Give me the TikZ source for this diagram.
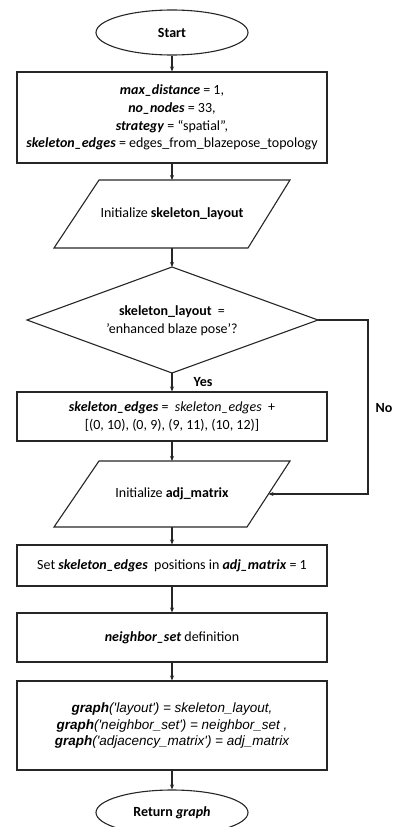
\documentclass[tikz,border=0pt]{standalone}
\usepackage{fontspec}
\setmainfont{Carlito}
\newfontfamily\arialf{Liberation Sans}
\usetikzlibrary{shapes.geometric,arrows.meta}
\begin{document}
\begin{tikzpicture}[x=1pt,y=-1pt,
  every node/.style={font=\fontsize{14}{17.6}\selectfont},
  line/.style={draw=black!85, line width=1.1pt},
  arr/.style={line, -{Stealth[length=5pt,width=4pt]}},
  box/.style={line, rectangle, minimum width=310pt, align=center, inner sep=0pt},
  term/.style={line, ellipse, minimum width=152pt, minimum height=45pt, inner sep=0pt, font=\bfseries\fontsize{14}{15}\selectfont},
  lbl/.style={font=\bfseries\fontsize{14}{15}\selectfont}]
\useasboundingbox (0,0) rectangle (397,827);
\clip (0,0) rectangle (397,827);
% Start
\node[term] (start) at (172,32.5) {Start};
% box1
\node[box, minimum height=91pt] (b1) at (172,117.5) {\textbf{\textit{max\_distance}} = 1,\\ \textbf{\textit{no\_nodes}} = 33,\\ \textbf{\textit{strategy}} = “spatial”,\\ \textbf{\textit{skeleton\_edges}} = edges\_from\_blazepose\_topology};
% parallelogram 1
\coordinate (p1a) at (99,180);
\coordinate (p1b) at (290,180);
\coordinate (p1c) at (248,248);
\coordinate (p1d) at (54,248);
\draw[line] (p1a) -- (p1b) -- (p1c) -- (p1d) -- cycle;
\node (p1) at (172,214) {Initialize \textbf{skeleton\_layout}};
% diamond
\coordinate (dt) at (172,267);
\coordinate (dr) at (318,320);
\coordinate (db) at (172,373);
\coordinate (dl) at (27,320);
\draw[line] (dt) -- (dr) -- (db) -- (dl) -- cycle;
\node[align=center] (d) at (172,321) {\textbf{skeleton\_layout}\ \ =\\ 'enhanced blaze pose'?};
% box2
\node[box, minimum height=49pt] (b2) at (172,416.5) {\textbf{\textit{skeleton\_edges}} = \ \textit{skeleton\_edges} \ +\\ {[}(0, 10), (0, 9), (9, 11), (10, 12)]};
% parallelogram 2
\coordinate (p2a) at (99,461);
\coordinate (p2b) at (290,461);
\coordinate (p2c) at (247,527);
\coordinate (p2d) at (54,527);
\draw[line] (p2a) -- (p2b) -- (p2c) -- (p2d) -- cycle;
\node (p2) at (172,494) {Initialize \textbf{adj\_matrix}};
\coordinate (p2r) at (268.5,494);
% box3
\node[box, minimum height=41pt] (b3) at (172,565.5) {Set \textbf{\textit{skeleton\_edges}}\ \ positions in \textbf{\textit{adj\_matrix}} = 1};
% box4
\node[box, minimum height=49pt] (b4) at (172,637.5) {\textbf{\textit{neighbor\_set}} definition};
% box5
\node[box, minimum height=89pt, font=\arialf\itshape\fontsize{13.5}{16.5}\selectfont] (b5) at (172,725.5) {\textbf{graph}('layout') = skeleton\_layout,\\ \textbf{graph}('neighbor\_set') = neighbor\_set ,\\ \textbf{graph}('adjacency\_matrix') = adj\_matrix};
% return
\node[term] (ret) at (172,812.5) {Return \textit{graph}};
% arrows
\draw[arr] (start) -- (b1);
\draw[arr] (b1) -- (172,180);
\draw[arr] (172,248) -- (dt);
\draw[arr] (db) -- (b2);
\draw[arr] (b2) -- (172,461);
\draw[arr] (172,527) -- (b3);
\draw[arr] (b3) -- (b4);
\draw[arr] (b4) -- (b5);
\draw[arr] (b5) -- (ret);
\draw[arr] (dr) -- (368,320) -- (368,494) -- (p2r);
\node[lbl] (yes) at (203,382) {Yes};
\node[lbl] (no) at (384,408) {No};
\end{tikzpicture}
\end{document}
